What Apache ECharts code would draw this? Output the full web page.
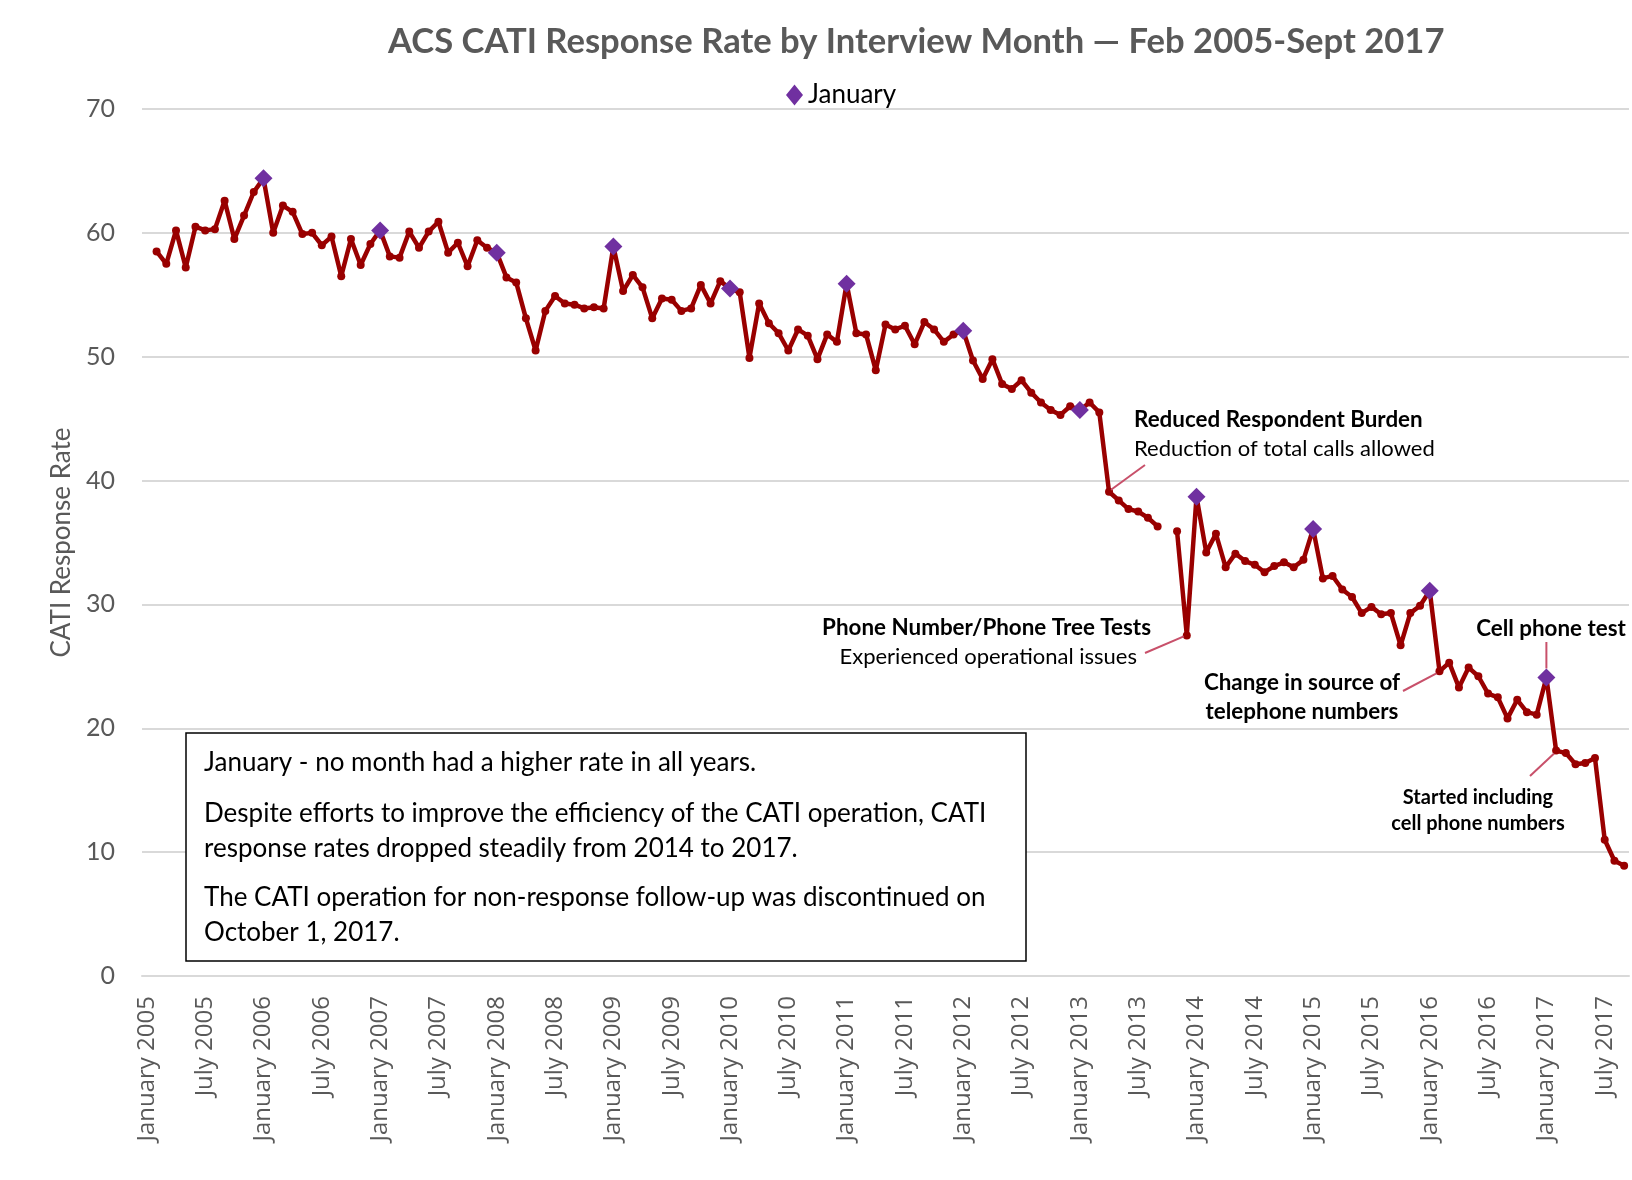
<!DOCTYPE html>
<html>
<head>
<meta charset="utf-8">
<title>ACS CATI Response Rate</title>
<script src="https://cdn.jsdelivr.net/npm/echarts@6/dist/echarts.min.js"></script>
<style>
html,body{margin:0;padding:0;background:#fff;}
#chart1{width:1632px;height:1180px;}
</style>
</head>
<body>
<div id="chart1"></div>
<script>
// CATI response rate by interview month (Jan 2005 had no data, Oct 2013 missing)
var monthNames = ['January','February','March','April','May','June','July','August','September','October','November','December'];
var years = [2005,2006,2007,2008,2009,2010,2011,2012,2013,2014,2015,2016,2017];

var rate2005 = [null,58.5,57.5,60.2,57.2,60.5,60.2,60.3,62.6,59.5,61.4,63.3];
var rate2006 = [64.4,60.0,62.2,61.7,59.9,60.0,59.0,59.7,56.5,59.5,57.4,59.1];
var rate2007 = [60.2,58.1,58.0,60.1,58.8,60.1,60.9,58.4,59.2,57.3,59.4,58.8];
var rate2008 = [58.4,56.4,56.0,53.1,50.5,53.7,54.9,54.3,54.2,53.9,54.0,53.9];
var rate2009 = [58.9,55.3,56.6,55.6,53.1,54.7,54.6,53.7,53.9,55.8,54.3,56.1];
var rate2010 = [55.5,55.2,49.9,54.3,52.7,51.9,50.5,52.2,51.7,49.8,51.8,51.2];
var rate2011 = [55.9,51.9,51.8,48.9,52.6,52.2,52.5,51.0,52.8,52.2,51.2,51.8];
var rate2012 = [52.1,49.7,48.2,49.8,47.8,47.4,48.1,47.1,46.3,45.7,45.3,46.0];
var rate2013 = [45.7,46.3,45.5,39.1,38.4,37.7,37.5,37.0,36.3,null,35.9,27.5];
var rate2014 = [38.7,34.2,35.7,33.0,34.1,33.5,33.2,32.6,33.1,33.4,33.0,33.6];
var rate2015 = [36.1,32.1,32.3,31.2,30.6,29.3,29.8,29.2,29.3,26.7,29.3,29.9];
var rate2016 = [31.1,24.6,25.3,23.3,24.9,24.2,22.8,22.5,20.8,22.3,21.3,21.1];
var rate2017 = [24.1,18.2,18.0,17.1,17.2,17.6,11.0,9.3,8.9];

var yTicks = [0,10,20,30,40,50,60,70];

var noteLines = [
	['January - no month had a higher rate in all years.'],
	['Despite efforts to improve the efficiency of the CATI operation, CATI','response rates dropped steadily from 2014 to 2017.'],
	['The CATI operation for non-response follow-up was discontinued on','October 1, 2017.']
];

/*****************************/
var yearRates = [rate2005,rate2006,rate2007,rate2008,rate2009,rate2010,rate2011,rate2012,rate2013,rate2014,rate2015,rate2016,rate2017];
var categories = [];
var rates = [];
var janRates = [];
for (var y = 0; y < years.length; y++) {
	for (var m = 0; m < yearRates[y].length; m++) {
		categories.push(monthNames[m] + ' ' + years[y]);
		var v = yearRates[y][m];
		rates.push(v === null ? '-' : v);
		janRates.push(m === 0 && v !== null ? v : '-');
	}
}

var gray = '#595959';
var red = '#990000';
var purple = '#7030A0';
var pink = '#c8506a';
var font = 'Lato';

var chart1 = echarts.init(document.getElementById('chart1'));
var option1 = {
	animation: false,
	backgroundColor: '#fff',
	textStyle: { fontFamily: font },
	title: {
		text: 'ACS CATI Response Rate by Interview Month \u2014 Feb 2005-Sept 2017',
		left: 383,
		top: 19,
		textStyle: { fontSize: 34.6, fontWeight: 'bold', color: gray, fontFamily: font }
	},
	legend: {
		data: [{ name: 'January', icon: 'diamond' }],
		left: 781,
		top: 77,
		itemWidth: 17,
		itemHeight: 21,
		itemGap: 8,
		itemStyle: { opacity: 1 },
		textStyle: { fontSize: 26, color: '#000', fontFamily: font }
	},
	grid: {
		left: 142,
		right: 3,
		top: 109,
		bottom: 204,
		containLabel: false
	},
	/******x axis*******/
	xAxis: {
		type: 'category',
		data: categories,
		boundaryGap: true,
		axisLine: { lineStyle: { color: '#d9d9d9', width: 2 } },
		axisTick: { show: false },
		axisLabel: {
			rotate: 90,
			margin: 20,
			fontSize: 24,
			color: gray,
			fontFamily: 'Open Sans',
			interval: function (index) { return index % 6 === 0; }
		}
	},
	yAxis: {
		type: 'value',
		min: yTicks[0],
		max: yTicks[yTicks.length - 1],
		interval: yTicks[1] - yTicks[0],
		name: 'CATI Response Rate',
		nameLocation: 'middle',
		nameGap: 66,
		nameRotate: 90,
		nameTextStyle: { fontSize: 26, color: gray, fontFamily: font },
		axisLine: { show: false },
		axisTick: { show: false },
		axisLabel: { fontSize: 25, color: gray, margin: 27, fontFamily: font },
		splitLine: { lineStyle: { color: '#d9d9d9', width: 2 } }
	},
	series: [{
		name: 'Response rate',
		type: 'line',
		data: rates,
		connectNulls: false,
		showAllSymbol: true,
		symbol: 'circle',
		symbolSize: 8,
		lineStyle: { color: red, width: 4.5 },
		itemStyle: { color: red },
		z: 2
	}, {
		name: 'January',
		type: 'scatter',
		data: janRates,
		symbol: 'diamond',
		symbolSize: 18,
		itemStyle: { color: purple, opacity: 1 },
		z: 3
	}]
};
chart1.setOption(option1);

/*****************************/
// annotations: text boxes and leader lines pointing at data points
function px(cat, val) {
	return chart1.convertToPixel({ seriesIndex: 0 }, [cat, val]);
}
var pApr13 = px('April 2013', 39.1);
var pDec13 = px('December 2013', 27.5);
var pFeb16 = px('February 2016', 24.6);
var pJan17 = px('January 2017', 24.1);
var pFeb17 = px('February 2017', 18.2);

function label(x, y, txt, bold, size, align) {
	return {
		type: 'text', x: x, y: y, z: 20,
		style: {
			text: txt, fill: '#000', font: (bold ? 'bold ' : '') + size + 'px ' + font,
			textAlign: align || 'left', textVerticalAlign: 'middle'
		}
	};
}
function leader(x1, y1, x2, y2) {
	return {
		type: 'line', z: 15,
		shape: { x1: x1, y1: y1, x2: x2, y2: y2 },
		style: { stroke: pink, lineWidth: 2 }
	};
}

var graphics = [];
graphics.push({
	type: 'rect', z: 10,
	shape: { x: 186, y: 733, width: 840, height: 228 },
	style: { fill: '#fff', stroke: '#000', lineWidth: 1.5 }
});
var noteY = [763, 814, 898];
for (var i = 0; i < noteLines.length; i++) {
	for (var j = 0; j < noteLines[i].length; j++) {
		graphics.push(label(204, noteY[i] + j * 35, noteLines[i][j], false, 26));
	}
}

graphics.push(label(1134, 420, 'Reduced Respondent Burden', true, 22.4));
graphics.push(label(1134, 449, 'Reduction of total calls allowed', false, 22));
graphics.push(leader(1145, 465, pApr13[0] + 2, pApr13[1] - 2));

graphics.push(label(1151, 628, 'Phone Number/Phone Tree Tests', true, 22.4, 'right'));
graphics.push(label(1137, 657, 'Experienced operational issues', false, 22, 'right'));
graphics.push(leader(1145, 653, pDec13[0] - 3, pDec13[1] + 1));

graphics.push(label(1302, 683, 'Change in source of', true, 22.4, 'center'));
graphics.push(label(1302, 712, 'telephone numbers', true, 22.4, 'center'));
graphics.push(leader(1403, 691, pFeb16[0] - 3, pFeb16[1] + 2));

graphics.push(label(1551, 629, 'Cell phone test', true, 22.4, 'center'));
graphics.push(leader(pJan17[0], 642, pJan17[0], pJan17[1] - 9));

graphics.push(label(1478, 798, 'Started including', true, 20, 'center'));
graphics.push(label(1478, 824, 'cell phone numbers', true, 20, 'center'));
graphics.push(leader(1530, 776, pFeb17[0] - 2, pFeb17[1] + 3));

chart1.setOption({ graphic: graphics });
</script>
</body>
</html>
